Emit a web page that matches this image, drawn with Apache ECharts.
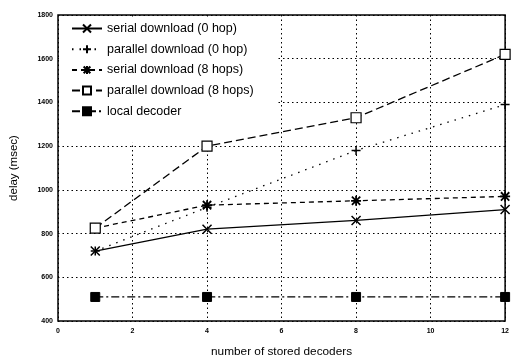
<!DOCTYPE html>
<html>
<head>
<meta charset="utf-8">
<script src="https://cdn.jsdelivr.net/npm/echarts@6/dist/echarts.min.js"></script>
<style>html,body{margin:0;padding:0;background:#fff}#c{width:512px;height:363px}</style>
</head>
<body>
<div id="c"></div>
<script>
var xValues = [1, 4, 8, 12];
var serial0 = [720, 820, 860, 910];
var parallel0 = [720, 920, 1180, 1390];
var serial8 = [825, 930, 950, 970];
var parallel8 = [825, 1200, 1330, 1620];
var localDecoder = [510, 510, 510, 510];
var seriesNames = ['serial download (0 hop)', 'parallel download (0 hop)', 'serial download (8 hops)', 'parallel download (8 hops)', 'local decoder'];

function pairs(ys) { return xValues.map(function (x, i) { return [x, ys[i]]; }); }

var symX = 'path://M0,0L10,10M10,0L0,10';
var symPlus = 'path://M5,0L5,10M0,5L10,5';
var symStar = 'path://M0,0L10,10M10,0L0,10M5,-1L5,11M-1,5L11,5';

var font = 'Liberation Sans, Arial, Helvetica, sans-serif';
var chart = echarts.init(document.getElementById('c'), null, {renderer: 'canvas'});
chart.setOption({
  animation: false,
  backgroundColor: '#fff',
  grid: {left: 57, right: 4, top: 15, bottom: 40, show: true, borderColor: '#000', borderWidth: 1.5, backgroundColor: 'transparent'},
  legend: {
    z: 1,
    left: 59, top: 17, orient: 'vertical', itemGap: 7.7, itemWidth: 30, itemHeight: 10,
    padding: [5, 24, 25, 12], backgroundColor: '#fff',
    textStyle: {fontFamily: font, fontSize: 12.5, color: '#000'},
    data: seriesNames
  },
  xAxis: {
    type: 'value', min: 0, max: 12, interval: 2,
    name: 'number of stored decoders', nameLocation: 'middle', nameGap: 25,
    nameTextStyle: {fontFamily: font, fontSize: 11.8, color: '#000'},
    axisLine: {show: false},
    axisTick: {show: false},
    axisLabel: {fontFamily: font, fontSize: 7, fontWeight: 'bold', color: '#000', margin: 7},
    splitLine: {show: true, lineStyle: {color: '#000', type: [1.5, 3], width: 1}}
  },
  yAxis: {
    type: 'value', min: 400, max: 1800, interval: 200,
    name: 'delay (msec)', nameLocation: 'middle', nameGap: 38,
    nameTextStyle: {fontFamily: font, fontSize: 11.5, color: '#000'},
    axisLine: {show: false},
    axisTick: {show: false},
    axisLabel: {fontFamily: font, fontSize: 7, fontWeight: 'bold', color: '#000', margin: 5, formatter: function (v) { return String(v); }},
    splitLine: {show: true, lineStyle: {color: '#000', type: [1.5, 3], width: 1}}
  },
  series: [
    {name: seriesNames[0], type: 'line', data: pairs(serial0), symbol: symX, symbolSize: 9,
     lineStyle: {color: '#000', width: 1.3, type: 'solid'},
     itemStyle: {color: '#000', borderColor: '#000', borderWidth: 1.5}},
    {name: seriesNames[1], type: 'line', data: pairs(parallel0), symbol: symPlus, symbolSize: 9,
     lineStyle: {color: '#000', width: 1.3, type: [1.5, 6]},
     itemStyle: {color: '#000', borderColor: '#000', borderWidth: 1.5}},
    {name: seriesNames[2], type: 'line', data: pairs(serial8), symbol: symStar, symbolSize: 10,
     lineStyle: {color: '#000', width: 1.3, type: [5, 4]},
     itemStyle: {color: '#000', borderColor: '#000', borderWidth: 1.8}},
    {name: seriesNames[3], type: 'line', data: pairs(parallel8), symbol: 'rect', symbolSize: 10,
     lineStyle: {color: '#000', width: 1.3, type: [8, 4]},
     itemStyle: {color: '#fff', borderColor: '#000', borderWidth: 1.2}},
    {name: seriesNames[4], type: 'line', data: pairs(localDecoder), symbol: 'rect', symbolSize: 9,
     lineStyle: {color: '#000', width: 1.3, type: [8, 3, 2, 3]},
     itemStyle: {color: '#000', borderColor: '#000', borderWidth: 1}}
  ]
});
</script>
</body>
</html>
